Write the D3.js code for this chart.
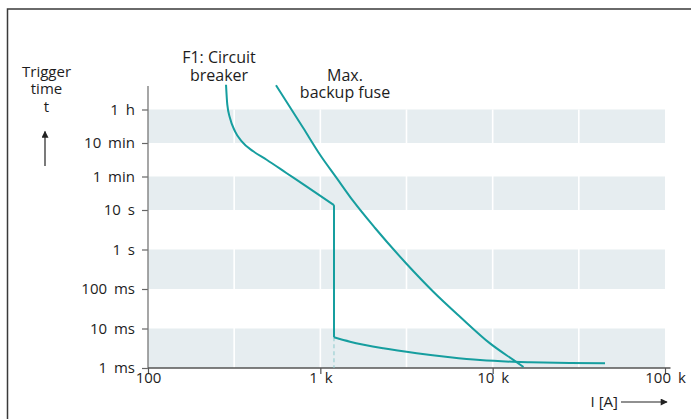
<!DOCTYPE html>
<html>
<head>
<meta charset="utf-8">
<script src="https://cdn.jsdelivr.net/npm/d3@7"></script>
<style>
  html, body { margin: 0; padding: 0; background: #fff; }
  svg { display: block; }
  text { font-family: "Open Sans", "Noto Sans", sans-serif; fill: #1d1d1d; }
</style>
</head>
<body>
<svg id="chart" width="691" height="419"></svg>
<script>
// Current axis (amperes, logarithmic)
const currentTicks = [100, 1000, 10000, 100000];
const currentTickLabels = ["100", "1 k", "10 k", "100 k"];
const currentGrid = [316.2, 1000, 3162, 10000, 31623];

// Trigger time axis (seconds)
const timeTicks = [0.001, 0.01, 0.1, 1, 10, 60, 600, 3600];
const timeTickLabels = ["1 ms", "10 ms", "100 ms", "1 s", "10 s", "1 min", "10 min", "1 h"];
// shaded time bands [from, to]
const timeBands = [[0.001, 0.01], [0.1, 1], [10, 60], [600, 3600]];

// F1 circuit breaker: thermal (inverse-time) part, [A, s]
const breakerThermal = [
  [283.6, 13550], [288.5, 4650], [299, 2285], [319.8, 1122], [349.8, 656],
  [408, 339], [488, 190], [638, 75.2], [834, 34.8], [1200, 13]
];
// magnetic trip current and instantaneous trip time
const breakerTripCurrent = 1200;
const breakerTripTime = 0.006;
// instantaneous (magnetic) part, [A, s]
const breakerMagnetic = [
  [1200, 0.006], [1486, 0.00464], [2320, 0.00315], [3625, 0.00236], [5655, 0.00187],
  [8444, 0.00159], [13130, 0.00144], [16470, 0.0014], [28000, 0.00134], [44870, 0.00131]
];
// maximum backup fuse characteristic, [A, s]
const backupFuse = [
  [553, 13130], [796, 1340], [996, 268], [1245, 55], [1554, 16], [2077, 3.5],
  [3171, 0.43], [4524, 0.0855], [6464, 0.0199], [9652, 0.0042], [13180, 0.0016], [15100, 0.00106]
];

// ---- layout ----
const left = 148, right = 665, bottom = 368, axisTop = 86;
const timeStepPx = [0, 39.5, 39.5, 39.5, 39.5, 33.5, 33.5, 33.5];
const teal = "#169e9f";

const svg = d3.select("#chart");

// outer frame
svg.append("rect")
  .attr("x", 7.5).attr("y", 9).attr("width", 720).attr("height", 440)
  .attr("fill", "none").attr("stroke", "#3a3a3a").attr("stroke-width", 1.5);

const x = d3.scaleLog().domain([100, 100000]).range([left, right]);

let acc = bottom;
const yRange = timeStepPx.map(s => (acc -= s));
const y = d3.scaleLog().domain(timeTicks).range(yRange);

// bands
svg.append("g").selectAll("rect").data(timeBands).join("rect")
  .attr("x", x(100)).attr("width", x(100000) - x(100))
  .attr("y", d => y(d[1])).attr("height", d => y(d[0]) - y(d[1]))
  .attr("fill", "#e6edf0");

// white half-decade grid lines
svg.append("g").selectAll("line").data(currentGrid).join("line")
  .attr("x1", d => x(d)).attr("x2", d => x(d))
  .attr("y1", y(3600)).attr("y2", bottom)
  .attr("stroke", "#fff").attr("stroke-width", 1.6);

// axes
const yAxis = d3.axisLeft(y).tickValues(timeTicks)
  .tickFormat((d, i) => timeTickLabels[i]).tickSize(6).tickPadding(7);
const gy = svg.append("g").attr("transform", `translate(${left},0)`).call(yAxis);
gy.select(".domain").remove();
gy.selectAll("line").attr("stroke", "#666").attr("stroke-width", 1.2);
gy.selectAll("text").attr("font-size", 15).attr("font-family", null)
  .attr("word-spacing", 3).attr("fill", "#1d1d1d");

const xAxis = d3.axisBottom(x).tickValues(currentTicks)
  .tickFormat((d, i) => currentTickLabels[i]).tickSize(6);
const gx = svg.append("g").attr("transform", `translate(0,${bottom})`).call(xAxis);
gx.select(".domain").remove();
gx.selectAll("line").attr("stroke", "#555").attr("stroke-width", 1.2);
gx.selectAll("text").attr("font-size", 15).attr("font-family", null)
  .attr("word-spacing", 3).attr("fill", "#1d1d1d").attr("y", 14.5).attr("dy", null);
gy.attr("font-family", null);
gx.attr("font-family", null);

svg.append("line").attr("x1", left).attr("x2", left).attr("y1", axisTop).attr("y2", bottom + 1)
  .attr("stroke", "#777").attr("stroke-width", 1.3);
svg.append("line").attr("x1", left).attr("x2", 670.5).attr("y1", bottom).attr("y2", bottom)
  .attr("stroke", "#555").attr("stroke-width", 1.3);

// curves
const line = d3.line().x(d => x(d[0])).y(d => y(d[1])).curve(d3.curveMonotoneX);

svg.append("line")
  .attr("x1", x(breakerTripCurrent)).attr("x2", x(breakerTripCurrent))
  .attr("y1", y(breakerTripTime)).attr("y2", bottom)
  .attr("stroke", "#8ccbcd").attr("stroke-width", 1).attr("stroke-dasharray", "4,3");

const curves = svg.append("g").attr("fill", "none").attr("stroke", teal)
  .attr("stroke-width", 2).attr("stroke-linejoin", "round");
curves.append("path").attr("d", line(breakerThermal));
curves.append("path").attr("d", d3.line().x(d => x(d[0])).y(d => y(d[1]))([
  [breakerTripCurrent, breakerThermal[breakerThermal.length - 1][1]],
  [breakerTripCurrent, breakerTripTime]
]));
curves.append("path").attr("d", line(breakerMagnetic));
curves.append("path").attr("d", line(backupFuse));

// labels, one text per line
function label(lines, cx, baseline, lh, size) {
  lines.forEach((s, i) => svg.append("text")
    .attr("text-anchor", "middle").attr("font-size", size)
    .attr("x", cx).attr("y", baseline + i * lh).text(s));
}
label(["F1: Circuit", "breaker"], 219, 63, 18, 16);
label(["Max.", "backup fuse"], 345, 81, 17, 16);
label(["Trigger", "time", "t"], 46.5, 76.5, 17.5, 15);

svg.append("text").attr("x", 618).attr("y", 406.5).attr("text-anchor", "end")
  .attr("font-size", 15).text("I [A]");

// arrows
const defs = svg.append("defs");
defs.append("marker").attr("id", "head").attr("viewBox", "0 0 10 10")
  .attr("refX", 9).attr("refY", 5).attr("markerWidth", 9).attr("markerHeight", 7)
  .attr("markerUnits", "userSpaceOnUse").attr("orient", "auto")
  .append("path").attr("d", "M0,0 L10,5 L0,10 z").attr("fill", "#222");

svg.append("line").attr("x1", 621).attr("x2", 667).attr("y1", 402).attr("y2", 402)
  .attr("stroke", "#222").attr("stroke-width", 1.2).attr("marker-end", "url(#head)");
svg.append("line").attr("x1", 45).attr("x2", 45).attr("y1", 166).attr("y2", 131.5)
  .attr("stroke", "#222").attr("stroke-width", 1.2).attr("marker-end", "url(#head)");
</script>
</body>
</html>
